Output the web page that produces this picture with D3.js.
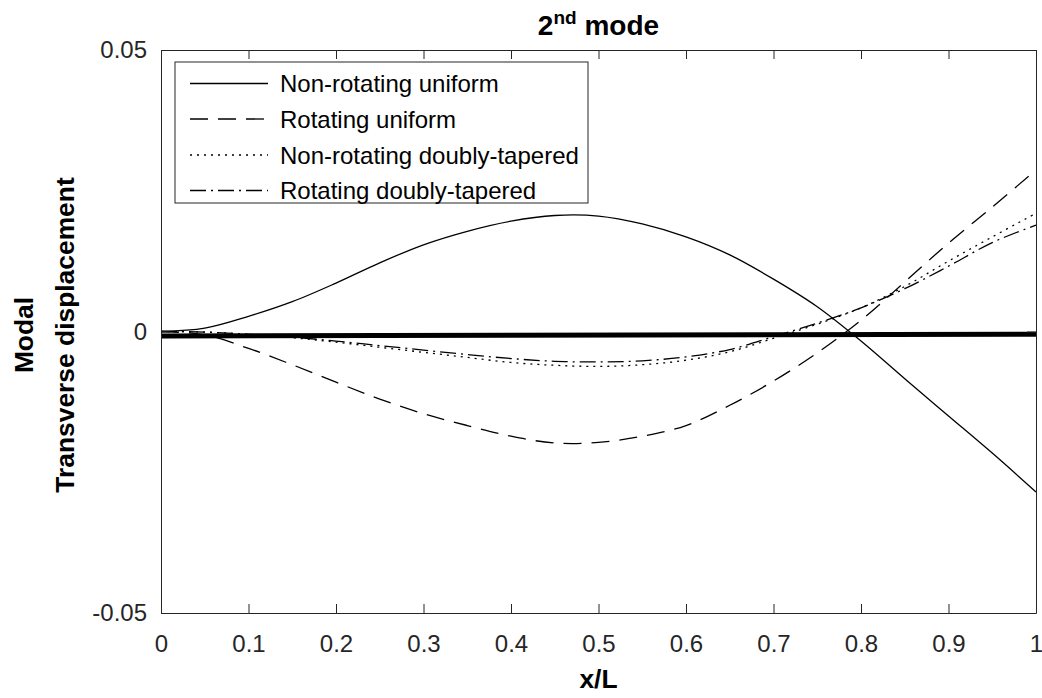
<!DOCTYPE html>
<html>
<head>
<meta charset="utf-8">
<script src="https://cdn.jsdelivr.net/npm/d3@7"></script>
<style>
  body { margin: 0; background: #fff; }
  text { font-family: "Liberation Sans", Arial, Helvetica, sans-serif; }
</style>
</head>
<body>
<svg id="chart" width="1042" height="698"></svg>
<script>
// Normalised position along the blade
const xPos = [0, 0.05, 0.10, 0.15, 0.20, 0.25, 0.30, 0.35, 0.40, 0.45, 0.50,
              0.55, 0.60, 0.65, 0.70, 0.75, 0.80, 0.85, 0.90, 0.95, 1.00];

// Second-mode transverse displacement for each configuration
const nonRotatingUniform = [0, 0.0006, 0.0027, 0.0053, 0.0086, 0.0122, 0.0154, 0.0178, 0.0196, 0.0206, 0.0205,
                            0.0191, 0.0168, 0.0136, 0.0093, 0.0044, -0.0017, -0.0084, -0.0150, -0.0216, -0.0285];
const rotatingUniform = [0, -0.0006, -0.0030, -0.0059, -0.0090, -0.0120, -0.0146, -0.0167, -0.0186, -0.0198, -0.0197,
                         -0.0186, -0.0167, -0.0131, -0.0088, -0.0038, 0.0020, 0.0088, 0.0157, 0.0221, 0.0287];
const nonRotatingTapered = [0, -0.0001, -0.0005, -0.0011, -0.0019, -0.0028, -0.0037, -0.0046, -0.0055, -0.0060, -0.0062,
                            -0.0059, -0.0051, -0.0036, -0.0012, 0.0013, 0.0042, 0.0080, 0.0125, 0.0168, 0.0210];
const rotatingTapered = [0, -0.0001, -0.0005, -0.0010, -0.0017, -0.0025, -0.0033, -0.0041, -0.0048, -0.0053, -0.0054,
                         -0.0052, -0.0045, -0.0032, -0.0009, 0.0015, 0.0042, 0.0076, 0.0116, 0.0158, 0.0189];

// Heavy reference line near zero displacement
const refX = [0, 1];
const refY = [-0.0008, -0.00048];

const seriesNames = ["Non-rotating uniform", "Rotating uniform",
                     "Non-rotating doubly-tapered", "Rotating doubly-tapered"];
const seriesValues = [nonRotatingUniform, rotatingUniform, nonRotatingTapered, rotatingTapered];
const seriesDash = [null, "18,10", "2,5", "16,5,2,5"];

const xTicks = [0, 0.1, 0.2, 0.3, 0.4, 0.5, 0.6, 0.7, 0.8, 0.9, 1];
const xTickLabels = ["0", "0.1", "0.2", "0.3", "0.4", "0.5", "0.6", "0.7", "0.8", "0.9", "1"];
const yTicks = [-0.05, 0, 0.05];
const yTickLabels = ["-0.05", "0", "0.05"];

const svg = d3.select("#chart");
const axisColor = "#262626";

const plotLeft = 161, plotRight = 1036, plotTop = 50, plotBottom = 613;
const x = d3.scaleLinear().domain([0, 1]).range([plotLeft, plotRight]);
const y = d3.scaleLinear().domain([-0.05, 0.05]).range([plotBottom, plotTop]);

const plot = svg.append("g");

// Curves
const line = d3.line()
  .x(d => x(d[0]))
  .y(d => y(d[1]))
  .curve(d3.curveCatmullRom.alpha(0.5));

seriesValues.forEach((vals, i) => {
  const pts = xPos.map((xv, j) => [xv, vals[j]]);
  plot.append("path")
    .datum(pts)
    .attr("d", line)
    .attr("fill", "none")
    .attr("stroke", "#000")
    .attr("stroke-width", 1.3)
    .attr("stroke-dasharray", seriesDash[i]);
});

// Thick reference line
plot.append("path")
  .datum(refX.map((xv, j) => [xv, refY[j]]))
  .attr("d", d3.line().x(d => x(d[0])).y(d => y(d[1])))
  .attr("fill", "none")
  .attr("stroke", "#000")
  .attr("stroke-width", 5);

// Axes (ticks pointing inward, full box)
function styleAxis(g) {
  g.selectAll("path, line").attr("stroke", axisColor).attr("stroke-width", 1);
  g.selectAll("text").attr("fill", axisColor).attr("font-size", 24);
}

svg.append("g")
  .attr("transform", `translate(0,${plotBottom})`)
  .call(d3.axisBottom(x).tickValues(xTicks).tickFormat((d, i) => xTickLabels[i])
        .tickSizeInner(-9).tickSizeOuter(0).tickPadding(22))
  .call(styleAxis);

svg.append("g")
  .attr("transform", `translate(0,${plotTop})`)
  .call(d3.axisTop(x).tickValues(xTicks).tickFormat("")
        .tickSizeInner(-9).tickSizeOuter(0))
  .call(styleAxis);

svg.append("g")
  .attr("transform", `translate(${plotLeft},0)`)
  .call(d3.axisLeft(y).tickValues(yTicks).tickFormat((d, i) => yTickLabels[i])
        .tickSizeInner(-9).tickSizeOuter(0).tickPadding(14))
  .call(styleAxis);

svg.append("g")
  .attr("transform", `translate(${plotRight},0)`)
  .call(d3.axisRight(y).tickValues(yTicks).tickFormat("")
        .tickSizeInner(-9).tickSizeOuter(0))
  .call(styleAxis);

// Title with superscript
const title = svg.append("text")
  .attr("x", (plotLeft + plotRight) / 2)
  .attr("y", 35)
  .attr("text-anchor", "middle")
  .attr("font-size", 28)
  .attr("font-weight", "bold")
  .attr("fill", "#000");
title.append("tspan").text("2");
title.append("tspan").text("nd").attr("font-size", 19).attr("dy", -11);
title.append("tspan").text(" mode").attr("dy", 11);

// Axis labels
svg.append("text")
  .attr("x", (plotLeft + plotRight) / 2)
  .attr("y", 688)
  .attr("text-anchor", "middle")
  .attr("font-size", 26.4)
  .attr("font-weight", "bold")
  .attr("fill", "#000")
  .text("x/L");

const yLab = svg.append("text")
  .attr("transform", "translate(33,335) rotate(-90)")
  .attr("text-anchor", "middle")
  .attr("font-size", 26.4)
  .attr("font-weight", "bold")
  .attr("fill", "#000");
yLab.append("tspan").attr("x", 0).attr("dy", 0).text("Modal");
yLab.append("tspan").attr("x", 0).attr("dy", 41).text("Transverse displacement");

// Legend
const legX = 175, legY = 62, legW = 413, legH = 141;
const legend = svg.append("g");
legend.append("rect")
  .attr("x", legX).attr("y", legY).attr("width", legW).attr("height", legH)
  .attr("fill", "#fff").attr("stroke", axisColor).attr("stroke-width", 1);

const rowY = [83.5, 119, 155, 190.5];
seriesNames.forEach((name, i) => {
  legend.append("line")
    .attr("x1", 190).attr("x2", 268)
    .attr("y1", rowY[i]).attr("y2", rowY[i])
    .attr("stroke", "#000").attr("stroke-width", 1.3)
    .attr("stroke-dasharray", seriesDash[i]);
  legend.append("text")
    .attr("x", 280).attr("y", rowY[i] + 8.5)
    .attr("font-size", 24)
    .attr("fill", "#000")
    .text(name);
});
</script>
</body>
</html>
